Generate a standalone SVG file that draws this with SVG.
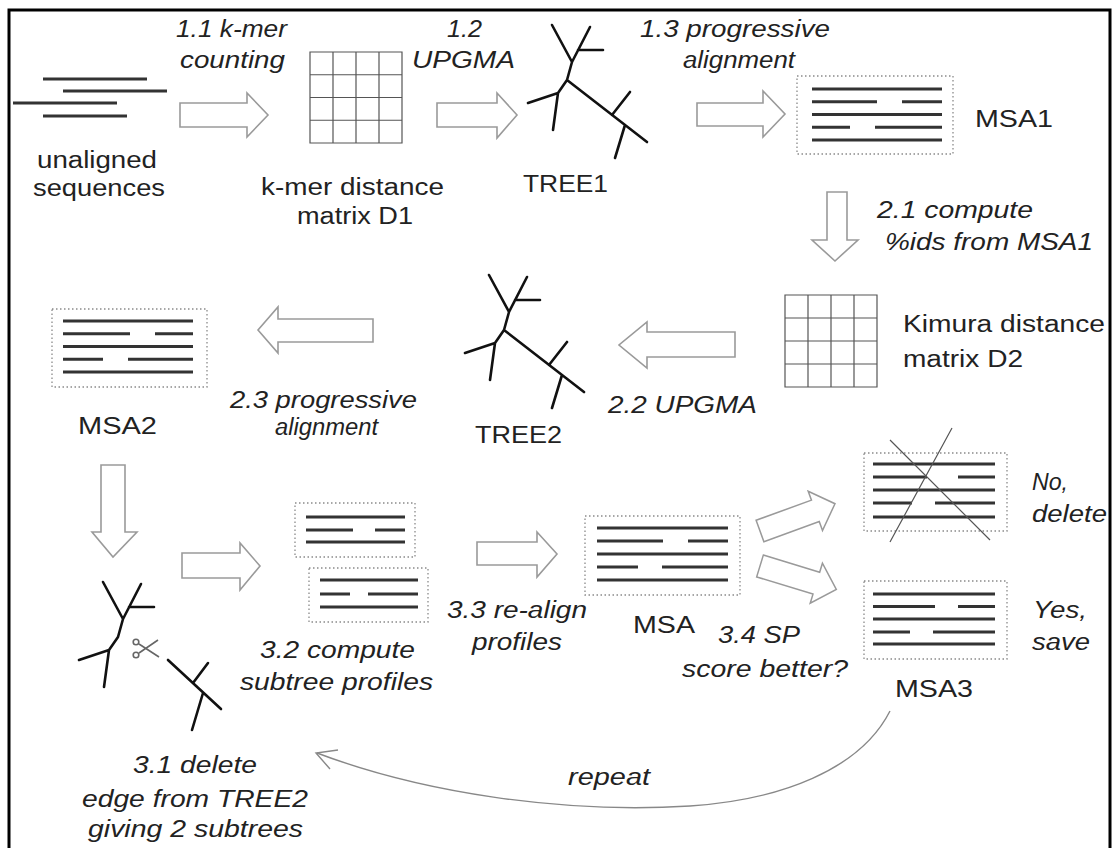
<svg xmlns="http://www.w3.org/2000/svg" width="1113" height="848" viewBox="0 0 1113 848">
<style>
.t{font-family:"Liberation Sans",Arial,sans-serif;font-size:23px;fill:#222}
.i{font-style:italic}
.arrow{fill:#fff;stroke:#9a9a9a;stroke-width:1.6;stroke-linejoin:miter}
.grid{fill:none;stroke:#555;stroke-width:1.2}
.box{fill:none;stroke:#8a8a8a;stroke-width:1.3;stroke-dasharray:1.5 2.5}
.seq{stroke:#333;stroke-width:3}
.tree{fill:none;stroke:#111;stroke-width:2.6;stroke-linecap:round;stroke-linejoin:round}
.conn{fill:none;stroke:#888;stroke-width:1.4}
</style>
<defs>
<path id="rarrow" d="M0,-12 H62 V-22 L84,0 L62,22 V12 H0 Z"/>
<g id="tree">
<path d="M552,25 L572,62 L567,80 L558,93 L553,130 M590,27 L572,62 M578,50 L603,50 M528,103 L558,93 M567,80 L647,142 M612,115 L630,92 M625,125 L615,158"/>
</g>
</defs>
<rect width="1113" height="848" fill="#fff"/>
<path d="M9,860 V10 H1110 V860" fill="none" stroke="#000" stroke-width="3"/>

<g id="connectors">
<path class="arrow" d="M180,103 H247 V93 L268,115 L247,137 V127 H180 Z"/>
<path class="arrow" d="M437,103 H497 V93 L517,115 L497,138 V127 H437 Z"/>
<path class="arrow" d="M697,103 H763 V91 L785,114 L763,137 V126 H697 Z"/>
<path class="arrow" d="M827,192 H847 V240 H858 L835,261 L812,240 H827 Z"/>
<path class="arrow" d="M735,332 H647 V322 L619,345 L647,368 V357 H735 Z"/>
<path class="arrow" d="M373,319 H278 V307 L258,330 L278,353 V342 H373 Z"/>
<path class="arrow" d="M101,465 H125 V532 H137 L113,557 L92,532 H101 Z"/>
<path class="arrow" d="M182,553 H240 V543 L260,566 L240,590 V578 H182 Z"/>
<path class="arrow" d="M477,542 H537 V532 L557,554 L537,577 V565 H477 Z"/>
<use href="#rarrow" class="arrow" transform="translate(760,531) rotate(-20) scale(0.95)"/>
<use href="#rarrow" class="arrow" transform="translate(760,566) rotate(17) scale(0.95)"/>
<path class="conn" d="M890,711 C860,770 780,800 690,806 C560,814 420,792 317,753"/>
<path class="conn" d="M338,750 L316,753 L330,769"/>
</g>

<g id="unaligned">
<line class="seq" x1="43" y1="79" x2="147" y2="79" stroke-width="2.2"/>
<line class="seq" x1="63" y1="91" x2="167" y2="91" stroke-width="2.2"/>
<line class="seq" x1="13" y1="103" x2="117" y2="103" stroke="#666" stroke-width="3.5"/>
<line class="seq" x1="43" y1="116" x2="127" y2="116" stroke-width="2.2"/>
<text class="t" x="37" y="168" textLength="120" lengthAdjust="spacingAndGlyphs">unaligned</text>
<text class="t" x="33" y="196" textLength="132" lengthAdjust="spacingAndGlyphs">sequences</text>
</g>

<g id="D1">
<path class="grid" d="M310,52 H402 V143 H310 Z M333,52 V143 M356,52 V143 M379,52 V143 M310,74.75 H402 M310,97.5 H402 M310,120.25 H402"/>
<text class="t" x="261" y="195" textLength="183" lengthAdjust="spacingAndGlyphs">k-mer distance</text>
<text class="t" x="297" y="224" textLength="116" lengthAdjust="spacingAndGlyphs">matrix D1</text>
</g>

<g id="TREE1">
<use href="#tree" class="tree"/>
<text class="t" x="523" y="192" textLength="85" lengthAdjust="spacingAndGlyphs">TREE1</text>
</g>

<g id="MSA1">
<rect class="box" x="797" y="76" width="156" height="78"/>
<path class="seq" d="M812,89 H942 M812,101.75 H877 M902,101.75 H942 M812,114.5 H942 M812,127.25 H850 M875,127.25 H942 M812,140 H942"/>
<text class="t" x="975" y="127" textLength="78" lengthAdjust="spacingAndGlyphs">MSA1</text>
</g>

<g id="D2">
<path class="grid" d="M785,295 H877 V387 H785 Z M808,295 V387 M831,295 V387 M854,295 V387 M785,318 H877 M785,341 H877 M785,364 H877"/>
<text class="t" x="903" y="332" textLength="202" lengthAdjust="spacingAndGlyphs">Kimura distance</text>
<text class="t" x="903" y="367" textLength="120" lengthAdjust="spacingAndGlyphs">matrix D2</text>
</g>

<g id="TREE2">
<use href="#tree" class="tree" transform="translate(-63,250)"/>
<text class="t" x="475" y="443" textLength="87" lengthAdjust="spacingAndGlyphs">TREE2</text>
</g>

<g id="MSA2">
<rect class="box" x="52" y="309" width="155" height="78"/>
<path class="seq" d="M63,321 H193 M63,333.75 H130 M155,333.75 H193 M63,346.5 H193 M63,359.25 H103 M128,359.25 H193 M63,372 H193"/>
<text class="t" x="78" y="434" textLength="79" lengthAdjust="spacingAndGlyphs">MSA2</text>
</g>

<g id="cut-tree">
<path class="tree" d="M103,582 L123,619 L118,637 L109,650 L104,687 M141,584 L123,619 M129,607 L154,607 M79,660 L109,650 M168,660 L221,709 M193,683 L208,663 M203,693 L192,730"/>
<g fill="none" stroke="#666" stroke-width="1.6">
<circle cx="136" cy="642" r="2.8"/>
<circle cx="136" cy="655" r="2.8"/>
<path d="M139,644 L159,657 M139,653 L158,640"/>
</g>
</g>

<g id="profiles">
<rect class="box" x="295" y="503" width="120" height="54"/>
<path class="seq" d="M306,517 H405 M306,530 H353 M375,530 H405 M306,542 H405"/>
<rect class="box" x="309" y="568" width="119" height="54"/>
<path class="seq" d="M320,580 H418 M320,594 H350 M368,594 H418 M320,607 H418"/>
</g>

<g id="MSA">
<rect class="box" x="585" y="516" width="155" height="79"/>
<path class="seq" d="M597,528 H728 M597,541 H663 M688,541 H728 M597,554 H728 M597,567 H638 M662,567 H728 M597,580 H728" stroke-width="3.6"/>
<text class="t" x="633" y="633" textLength="62" lengthAdjust="spacingAndGlyphs">MSA</text>
</g>

<g id="deleted">
<rect class="box" x="864" y="453" width="143" height="78"/>
<path class="seq" d="M873,464 H995 M873,477 H927 M958,477 H995 M873,490 H995 M873,503 H912 M935,503 H995 M873,517 H995"/>
<path d="M890,440 L990,540 M952,428 L890,542" stroke="#555" stroke-width="1.2" fill="none"/>
</g>

<g id="MSA3">
<rect class="box" x="864" y="581" width="143" height="78"/>
<path class="seq" d="M873,594 H995 M873,606.5 H935 M958,606.5 H995 M873,619 H995 M873,632 H910 M933,632 H995 M873,644 H995"/>
<text class="t" x="895" y="697" textLength="78" lengthAdjust="spacingAndGlyphs">MSA3</text>
</g>

<g id="labels">
<text class="t i" x="176" y="37" textLength="111" lengthAdjust="spacingAndGlyphs">1.1 k-mer</text>
<text class="t i" x="180" y="68" textLength="105" lengthAdjust="spacingAndGlyphs">counting</text>
<text class="t i" x="447" y="37" textLength="35" lengthAdjust="spacingAndGlyphs">1.2</text>
<text class="t i" x="412" y="68" textLength="103" lengthAdjust="spacingAndGlyphs">UPGMA</text>
<text class="t i" x="640" y="37" textLength="190" lengthAdjust="spacingAndGlyphs">1.3 progressive</text>
<text class="t i" x="683" y="68" textLength="112" lengthAdjust="spacingAndGlyphs">alignment</text>
<text class="t i" x="877" y="218" textLength="156" lengthAdjust="spacingAndGlyphs">2.1 compute</text>
<text class="t i" x="885" y="250" textLength="208" lengthAdjust="spacingAndGlyphs">%ids from MSA1</text>
<text class="t i" x="608" y="413" textLength="149" lengthAdjust="spacingAndGlyphs">2.2 UPGMA</text>
<text class="t i" x="230" y="408" textLength="187" lengthAdjust="spacingAndGlyphs">2.3 progressive</text>
<text class="t i" x="275" y="435" textLength="103" lengthAdjust="spacingAndGlyphs">alignment</text>
<text class="t i" x="260" y="658" textLength="155" lengthAdjust="spacingAndGlyphs">3.2 compute</text>
<text class="t i" x="240" y="690" textLength="193" lengthAdjust="spacingAndGlyphs">subtree profiles</text>
<text class="t i" x="133" y="773" textLength="124" lengthAdjust="spacingAndGlyphs">3.1 delete</text>
<text class="t i" x="82" y="807" textLength="226" lengthAdjust="spacingAndGlyphs">edge from TREE2</text>
<text class="t i" x="88" y="837" textLength="215" lengthAdjust="spacingAndGlyphs">giving 2 subtrees</text>
<text class="t i" x="447" y="618" textLength="140" lengthAdjust="spacingAndGlyphs">3.3 re-align</text>
<text class="t i" x="472" y="650" textLength="90" lengthAdjust="spacingAndGlyphs">profiles</text>
<text class="t i" x="718" y="643" textLength="82" lengthAdjust="spacingAndGlyphs">3.4 SP</text>
<text class="t i" x="682" y="677" textLength="166" lengthAdjust="spacingAndGlyphs">score better?</text>
<text class="t i" x="1032" y="490" textLength="36" lengthAdjust="spacingAndGlyphs">No,</text>
<text class="t i" x="1032" y="522" textLength="75" lengthAdjust="spacingAndGlyphs">delete</text>
<text class="t i" x="1033" y="618" textLength="54" lengthAdjust="spacingAndGlyphs">Yes,</text>
<text class="t i" x="1032" y="650" textLength="58" lengthAdjust="spacingAndGlyphs">save</text>
<text class="t i" x="568" y="785" textLength="82" lengthAdjust="spacingAndGlyphs">repeat</text>
</g>
</svg>
